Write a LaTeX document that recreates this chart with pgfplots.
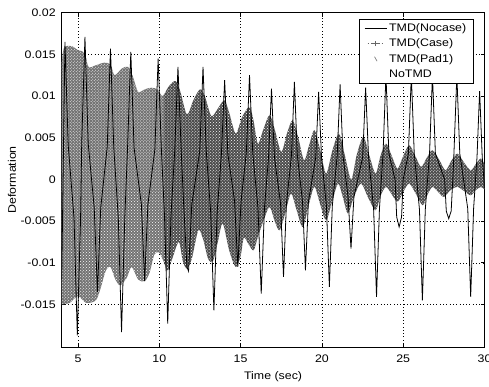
\documentclass[border=0pt]{standalone}
\usepackage{pgfplots}
\pgfplotsset{compat=1.18}
\usepgfplotslibrary{fillbetween}
\usetikzlibrary{patterns,calc}
\usepackage{fontspec}
\setmainfont{Liberation Sans}[FakeStretch=1.13]

\pgfplotsset{
  nocaseleg/.style={legend image code/.code={\draw[black, line width=0.8pt] (0bp,0bp) -- (22bp,0bp);}},
  caseleg/.style={legend image code/.code={%
    \draw[black!60, line width=0.6pt, dash pattern=on 1.5pt off 2pt] (3bp,0bp) -- (19bp,0bp);
    \draw[black!60, line width=0.6pt] (11bp,-2.5bp) -- (11bp,2.5bp) (8.5bp,0bp) -- (13.5bp,0bp);}},
  padleg/.style={legend image code/.code={\draw[black!50, line width=0.7pt] (10bp,2.5bp) -- (12.5bp,-2bp);}},
  notmdleg/.style={legend image code/.code={\draw[white, line width=0.6pt] (0bp,0bp) -- (22bp,0bp);}},
}

\begin{document}
\begin{tikzpicture}[font=\fontsize{11}{13}\selectfont]
\begin{axis}[
  scale only axis,
  width=422.8bp, height=334.3bp,
  xmin=4, xmax=30, ymin=-0.0201, ymax=0.02,
  xtick={5,10,15,20,25,30},
  xticklabels={5,10,15,20,25,30},
  ytick={-0.015,-0.01,-0.005,0,0.005,0.01,0.015,0.02},
  yticklabels={-0.015,-0.01,-0.005,0,0.005,0.01,0.015,0.02},
  scaled y ticks=false,
  /pgf/number format/assume math mode=true,
  tick label style={font=\fontsize{11}{13}\selectfont},
  label style={font=\fontsize{11}{13}\selectfont},
  tick align=inside,
  major tick length=4bp,
  grid=major,
  grid style={black, line width=0.5pt, dash pattern=on 0.7pt off 2.6pt},
  axis line style={black, line width=0.8pt},
  every tick/.style={black, line width=0.6pt},
  xticklabel style={yshift=-4bp},
  yticklabel style={xshift=-2.5bp},
  xlabel={Time (sec)},
  ylabel={Deformation},
  xlabel style={at={(axis description cs:0.5,-0.0897)}, anchor=center},
  ylabel style={at={(axis description cs:-0.1175,0.5)}, anchor=center},
  legend cell align=left,
  legend style={at={(0.974,0.982)}, anchor=north east, draw=black,
    line width=0.6pt, fill=white, inner xsep=4.8bp, inner ysep=2bp,
    row sep=1.8bp, nodes={inner sep=2.2bp}, font=\fontsize{11}{13}\selectfont},
]

% envelope of the densely oscillating responses
\addplot[draw=none, smooth, name path=up, forget plot] coordinates {
(4.00,0.0140)(4.15,0.0158)(4.60,0.0160)(5.00,0.0155)(5.40,0.0152)(5.65,0.0135)
(6.10,0.0137)(6.60,0.0140)(7.00,0.0138)(7.25,0.0125)(7.70,0.0133)(8.10,0.0135)
(8.40,0.0122)(8.70,0.0105)(9.10,0.0108)(9.50,0.0110)(9.90,0.0108)(10.20,0.0100)
(10.60,0.0112)(11.00,0.0118)(11.30,0.0105)(11.70,0.0078)(12.10,0.0095)(12.50,0.0108)
(12.80,0.0100)(13.20,0.0076)(13.60,0.0085)(14.00,0.0095)(14.30,0.0080)(14.70,0.0055)
(15.10,0.0075)(15.55,0.0087)(15.80,0.0070)(16.06,0.0043)(16.40,0.0060)(16.78,0.0077)
(17.10,0.0060)(17.50,0.0033)(17.85,0.0055)(18.20,0.0071)(18.55,0.0050)(18.90,0.0023)
(19.20,0.0040)(19.54,0.0059)(19.90,0.0035)(20.26,0.0007)(20.65,0.0035)(21.05,0.0055)
(21.40,0.0030)(21.80,0.0000)(22.15,0.0030)(22.55,0.0051)(22.90,0.0030)(23.30,0.0007)
(23.60,0.0028)(23.94,0.0043)(24.30,0.0028)(24.65,0.0013)(25.00,0.0028)(25.37,0.0041)
(25.75,0.0028)(26.10,0.0015)(26.45,0.0026)(26.80,0.0035)(27.20,0.0024)(27.60,0.0011)
(27.95,0.0022)(28.33,0.0031)(28.75,0.0020)(29.15,0.0011)(29.45,0.0018)(29.77,0.0025)
(30.00,0.0018)
};
\addplot[draw=none, smooth, name path=lo, forget plot] coordinates {
(4.00,-0.0150)(4.50,-0.0148)(5.00,-0.0140)(5.50,-0.0148)(6.10,-0.0145)(6.40,-0.0130)
(6.70,-0.0110)(7.00,-0.0105)(7.30,-0.0120)(7.60,-0.0127)(8.00,-0.0118)(8.30,-0.0105)
(8.70,-0.0120)(9.10,-0.0122)(9.40,-0.0112)(9.70,-0.0090)(10.00,-0.0088)(10.30,-0.0100)
(10.50,-0.0110)(10.80,-0.0095)(11.20,-0.0075)(11.45,-0.0098)(11.70,-0.0107)(12.00,-0.0095)
(12.40,-0.0061)(12.70,-0.0072)(13.00,-0.0095)(13.30,-0.0098)(13.60,-0.0075)(13.90,-0.0053)
(14.30,-0.0085)(14.70,-0.0105)(15.00,-0.0092)(15.20,-0.0070)(15.50,-0.0078)(15.80,-0.0085)
(16.06,-0.0069)(16.40,-0.0050)(16.78,-0.0033)(17.10,-0.0050)(17.40,-0.0061)(17.75,-0.0040)
(18.10,-0.0017)(18.45,-0.0037)(18.82,-0.0057)(19.20,-0.0030)(19.54,-0.0009)(19.90,-0.0030)
(20.26,-0.0049)(20.65,-0.0025)(21.00,-0.0005)(21.30,-0.0022)(21.60,-0.0041)(21.95,-0.0022)
(22.40,-0.0005)(22.85,-0.0022)(23.30,-0.0037)(23.60,-0.0020)(23.94,-0.0009)(24.30,-0.0018)
(24.65,-0.0027)(25.00,-0.0015)(25.37,-0.0005)(25.80,-0.0018)(26.20,-0.0031)(26.50,-0.0018)
(26.80,-0.0009)(27.15,-0.0015)(27.50,-0.0021)(27.90,-0.0013)(28.33,-0.0009)(28.75,-0.0014)
(29.15,-0.0019)(29.45,-0.0013)(29.77,-0.0009)(30.00,-0.0012)
};
\addplot[fill=black!55, draw=none, forget plot,
  postaction={pattern=crosshatch dots, pattern color=white}]
  fill between[of=up and lo, soft clip={domain=4:10.3}];
\addplot[fill=black!70, draw=none, forget plot,
  postaction={pattern=crosshatch dots, pattern color=white}]
  fill between[of=up and lo, soft clip={domain=10.3:30}];

% TMD(Nocase): narrow peaks and troughs of the slow response
\addplot[black, line width=0.8pt, forget plot] coordinates {
(4.00,-0.0120)(4.20,0.0165)(4.40,0.0041)
(4.76,-0.0047)(4.96,-0.0187)(5.16,-0.0047)
(5.23,0.0043)(5.43,0.0171)(5.63,0.0043)
(6.00,-0.0034)(6.20,-0.0135)(6.40,-0.0034)
(6.80,0.0039)(7.00,0.0157)(7.20,0.0039)
(7.48,-0.0046)(7.68,-0.0183)(7.88,-0.0046)
(8.05,0.0038)(8.25,0.0153)(8.45,0.0038)
(8.90,-0.0030)(9.10,-0.0122)(9.30,-0.0030)
(9.73,0.0036)(9.93,0.0145)(10.13,0.0036)
(10.32,-0.0043)(10.52,-0.0173)(10.72,-0.0043)
(10.95,0.0034)(11.15,0.0135)(11.35,0.0034)
(11.50,-0.0030)(11.70,-0.0105)(11.80,-0.0110)(12.00,-0.0030)
(12.49,0.0034)(12.69,0.0135)(12.89,0.0034)
(13.16,-0.0039)(13.36,-0.0157)(13.56,-0.0039)
(13.82,0.0030)(14.02,0.0119)(14.22,0.0030)
(14.63,-0.0026)(14.83,-0.0105)(15.03,-0.0026)
(15.35,0.0031)(15.55,0.0125)(15.75,0.0031)
(16.07,-0.0034)(16.27,-0.0137)(16.47,-0.0034)
(16.72,0.0027)(16.90,0.0109)(17.08,0.0027)
(17.46,-0.0029)(17.64,-0.0117)(17.82,-0.0029)
(18.13,0.0029)(18.31,0.0117)(18.49,0.0029)
(18.81,-0.0027)(18.99,-0.0109)(19.17,-0.0027)
(19.62,0.0026)(19.80,0.0105)(19.98,0.0026)
(20.28,-0.0032)(20.46,-0.0129)(20.64,-0.0032)
(20.94,0.0028)(21.12,0.0114)(21.30,0.0028)
(21.61,-0.0021)(21.79,-0.0083)(21.97,-0.0021)
(22.51,0.0027)(22.69,0.0110)(22.87,0.0027)
(23.18,-0.0035)(23.36,-0.0141)(23.54,-0.0035)
(23.76,0.0031)(23.94,0.0125)(24.12,0.0031)
(24.50,0.0000)(24.60,-0.0045)(24.75,-0.0057)(24.90,-0.0045)(25.00,0.0000)
(25.32,0.0031)(25.50,0.0125)(25.68,0.0031)
(26.00,-0.0036)(26.18,-0.0145)(26.36,-0.0036)
(26.62,0.0031)(26.80,0.0125)(26.98,0.0031)
(27.55,0.0000)(27.65,-0.0038)(27.80,-0.0047)(27.95,-0.0038)(28.05,0.0000)
(28.12,0.0031)(28.30,0.0125)(28.48,0.0031)
(28.97,-0.0035)(29.15,-0.0141)(29.33,-0.0035)
(29.54,0.0027)(29.70,0.0106)(29.86,0.0027)
(30.00,-0.0010)
};

\addlegendimage{nocaseleg}\addlegendentry{TMD(Nocase)}
\addlegendimage{caseleg}\addlegendentry{TMD(Case)}
\addlegendimage{padleg}\addlegendentry{TMD(Pad1)}
\addlegendimage{notmdleg}\addlegendentry{NoTMD}
\end{axis}
\pgfresetboundingbox
\path ($(current axis.south west)+(-61.7bp,-40bp)$) rectangle ($(current axis.north east)+(4.5bp,12.7bp)$);
\end{tikzpicture}
\end{document}
